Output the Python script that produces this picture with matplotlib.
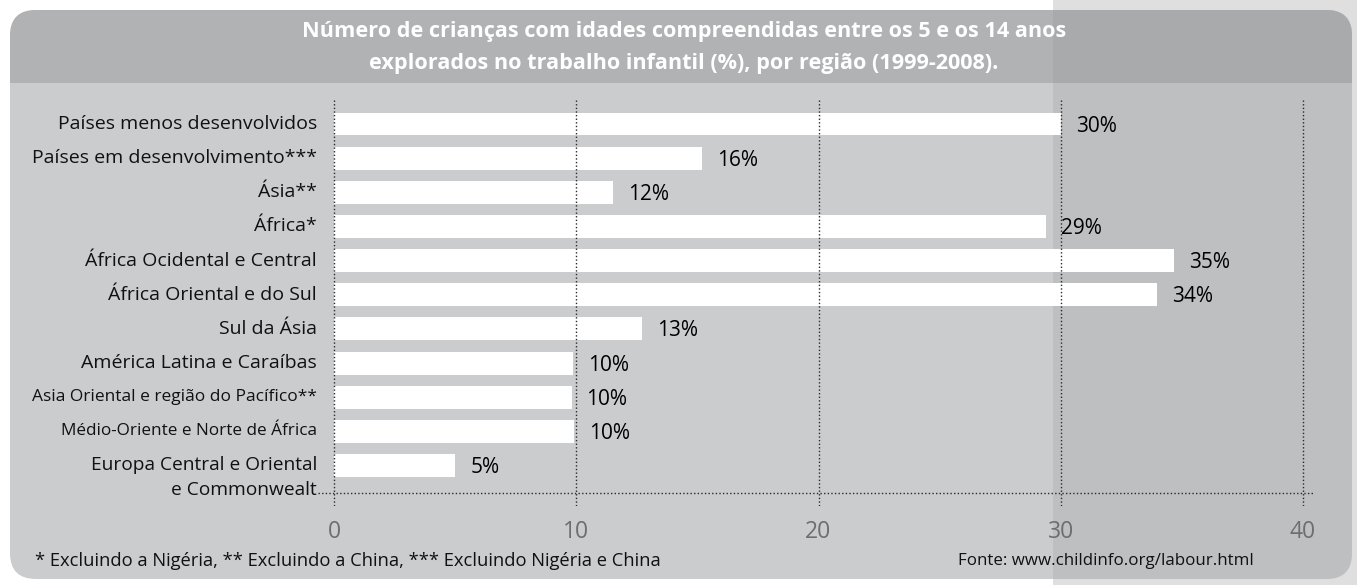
import matplotlib
matplotlib.use("Agg")
import matplotlib.pyplot as plt
from matplotlib.patches import FancyBboxPatch, Rectangle
from matplotlib.transforms import blended_transform_factory

# ---------------- data ----------------
categories = [
    "Países menos desenvolvidos",
    "Países em desenvolvimento***",
    "Ásia**",
    "África*",
    "África Ocidental e Central",
    "África Oriental e do Sul",
    "Sul da Ásia",
    "América Latina e Caraíbas",
    "Asia Oriental e região do Pacífico**",
    "Médio-Oriente e Norte de África",
    "Europa Central e Oriental\ne Commonwealt",
]
values = [30.0, 15.2, 11.5, 29.4, 34.7, 34.0, 12.7, 9.85, 9.8, 9.9, 5.0]
value_labels = ["30%", "16%", "12%", "29%", "35%", "34%", "13%", "10%", "10%", "10%", "5%"]
xticks = [0, 10, 20, 30, 40]
xtick_labels = ["0", "10", "20", "30", "40"]
title_lines = ["Número de crianças com idades compreendidas entre os 5 e os 14 anos",
               "explorados no trabalho infantil (%), por região (1999-2008)."]
footnote = "* Excluindo a Nigéria, ** Excluindo a China, *** Excluindo Nigéria e China"
source = "Fonte: www.childinfo.org/labour.html"

FONT = ["Open Sans", "DejaVu Sans"]
plt.rcParams["font.family"] = FONT

W, H = 1357, 585
fig = plt.figure(figsize=(W / 100, H / 100), dpi=100)
fig.patch.set_facecolor("white")

# ---------------- background (pixel coordinates) ----------------
bg = fig.add_axes([0, 0, 1, 1])
bg.set_xlim(0, W)
bg.set_ylim(H, 0)
bg.axis("off")

BAND_X = 1053
PX0, PY0, PX1, PY1 = 10, 10, 1352, 579
TITLE_BOTTOM = 83
R = 26

bg.add_patch(Rectangle((BAND_X, 0), W - BAND_X, H, facecolor="#dfdfdf", edgecolor="none", zorder=0))


def panel(color, clip=None, title=False, z=1):
    y1 = TITLE_BOTTOM + 60 if title else PY1
    p = FancyBboxPatch((PX0, PY0), PX1 - PX0, y1 - PY0,
                       boxstyle=f"round,pad=0,rounding_size={R}",
                       facecolor=color, edgecolor="none", zorder=z)
    bg.add_patch(p)
    if clip is not None:
        cr = Rectangle(clip[:2], clip[2], clip[3], transform=bg.transData)
        p.set_clip_path(cr)
    return p


panel("#cbccce", z=1)
panel("#b1b2b4", clip=(0, 0, W, TITLE_BOTTOM), title=True, z=2)
panel("#bebfc1", clip=(BAND_X, 0, W, H), z=3)
panel("#a9aaac", clip=(BAND_X, 0, W, TITLE_BOTTOM), title=True, z=4)

# ---------------- main axes ----------------
x0_px, x40_px = 334.3, 1302.7
ppu = (x40_px - x0_px) / 40.0
ax_left_px, ax_right_px = 318, 1313
c0, step = 124.0, 34.15
ax_top_px, ax_bot_px = 100, 506

xmin = (ax_left_px - x0_px) / ppu
xmax = (ax_right_px - x0_px) / ppu
ytop = (ax_top_px - c0) / step
ybot = (ax_bot_px - c0) / step
axis_line_y = (493 - c0) / step

ax = fig.add_axes([ax_left_px / W, 1 - ax_bot_px / H,
                   (ax_right_px - ax_left_px) / W, (ax_bot_px - ax_top_px) / H])
ax.set_facecolor("none")
ax.set_xlim(xmin, xmax)
ax.set_ylim(ybot, ytop)
for s in ax.spines.values():
    s.set_visible(False)

ypos = list(range(len(categories)))
ax.barh(ypos, values, height=0.673, color="white", edgecolor="none", zorder=2)

dot = (0, (1, 1.6))
ax.vlines(xticks, ytop, ybot, colors="#2a2a2a", linestyles=dot, linewidth=1.0, zorder=3)
ax.hlines([axis_line_y], xmin, xmax, colors="#2a2a2a", linestyles=dot, linewidth=1.0, zorder=3)

ax.set_xticks(xticks)
ax.set_xticklabels(xtick_labels, fontsize=16.5, color="#6d6e71")
ax.tick_params(axis="x", length=0, pad=10)
ax.set_yticks([])

for y, v, lab in zip(ypos, values, value_labels):
    ax.annotate(lab, (v, y), xytext=(15, -2), textcoords="offset pixels",
                ha="left", va="center", fontsize=15, color="#000000", zorder=4)

trans = blended_transform_factory(fig.transFigure, ax.transData)
label_right = 317 / W
label_sizes = [14, 14, 14, 14, 14, 14, 14, 14, 12.5, 12.3, 13.8]
for y, cat, fs in zip(ypos, categories, label_sizes):
    for k, line in enumerate(cat.split("\n")):
        ax.text(label_right, y + k * 0.72, line, transform=trans, ha="right", va="center",
                fontsize=fs, color="#111111")

# ---------------- texts ----------------
fig.text(684 / W, 1 - 31 / H, title_lines[0], ha="center", va="center",
         fontsize=15.6, fontweight="bold", color="white")
fig.text(684 / W, 1 - 64 / H, title_lines[1], ha="center", va="center",
         fontsize=15.6, fontweight="bold", color="white")
fig.text(35 / W, 1 - 561 / H, footnote, ha="left", va="center", fontsize=13.2, color="#111111")
fig.text(1254 / W, 1 - 561 / H, source, ha="right", va="center", fontsize=12.2, color="#111111")

fig.savefig("out.png", dpi=100, facecolor=fig.get_facecolor())
